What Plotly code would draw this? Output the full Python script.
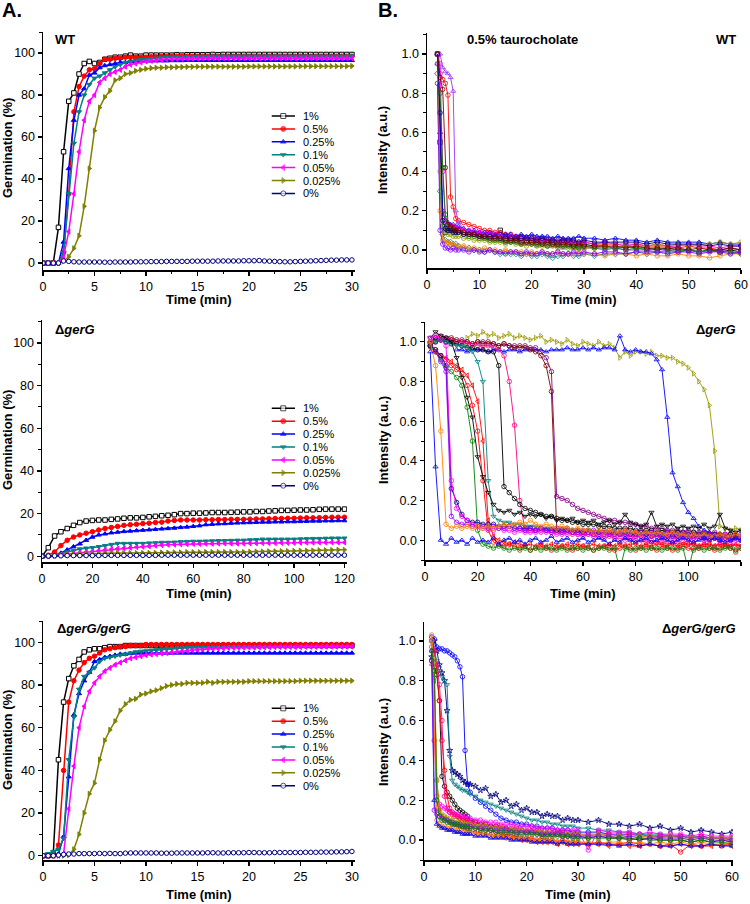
import plotly.graph_objects as go

W, H = 750, 904
FONT = "Liberation Sans, Arial, sans-serif"

# ---------------- Panel A: germination curves ----------------
conc_labels = ["1%", "0.5%", "0.25%", "0.1%", "0.05%", "0.025%", "0%"]
conc_colors = ["#000000", "#FF0000", "#0000FF", "#008080", "#FF00FF", "#808000", "#000080"]
conc_symbols = ["square", "circle", "triangle-up", "triangle-down", "triangle-left", "triangle-right", "circle"]
conc_fill = ["white", None, None, None, None, None, "white"]

t_A1 = [0, 0.5, 1, 1.5, 2, 2.5, 3, 3.5, 4, 4.5, 5, 5.5, 6, 6.5, 7, 7.5, 8, 8.5, 9, 9.5,
        10, 10.5, 11, 11.5, 12, 12.5, 13, 13.5, 14, 14.5, 15, 15.5, 16, 16.5, 17, 17.5, 18, 18.5, 19, 19.5,
        20, 20.5, 21, 21.5, 22, 22.5, 23, 23.5, 24, 24.5, 25, 25.5, 26, 26.5, 27, 27.5, 28, 28.5, 29, 29.5, 30]
t_A3 = t_A1
t_A2 = [0, 2.5, 5, 7.5, 10, 12.5, 15, 17.5, 20, 22.5, 25, 27.5, 30, 32.5, 35, 37.5, 40, 42.5, 45, 47.5,
        50, 52.5, 55, 57.5, 60, 62.5, 65, 67.5, 70, 72.5, 75, 77.5, 80, 82.5, 85, 87.5, 90, 92.5, 95, 97.5,
        100, 102.5, 105, 107.5, 110, 112.5, 115, 117.5, 120]

# WT
wt_1 = [0, 0, 0, 17, 53, 77, 81, 90, 95, 96,
        95, 95.5, 97, 97.5, 98, 98, 98.5, 99, 98.5, 98.5,
        99, 99, 99, 99, 99, 99, 99.2, 99, 99.2, 99.2,
        99.2, 99.2, 99.2, 99.3, 99.2, 99.3, 99.3, 99.3, 99.3, 99.3,
        99.3, 99.3, 99.3, 99.3, 99.3, 99.3, 99.3, 99.3, 99.3, 99.3,
        99.3, 99.3, 99.3, 99.3, 99.3, 99.3, 99.3, 99.3, 99.3, 99.3, 99.3]
wt_05 = [0, 0, 0, 0, 5, 33, 72, 84, 89, 92,
         92.5, 95, 97, 97, 97.5, 97.5, 98, 98, 98, 98,
         98, 98.2, 98.2, 98.3, 98.3, 98.5, 98.5, 98.5, 98.5, 98.5,
         98.5, 98.5, 98.5, 98.5, 98.5, 98.5, 98.5, 98.5, 98.5, 98.5,
         98.5, 98.5, 98.5, 98.5, 98.5, 98.5, 98.5, 98.5, 98.5, 98.5,
         98.5, 98.5, 98.5, 98.5, 98.5, 98.5, 98.5, 98.5, 98.5, 98.5, 98.5]
wt_025 = [0, 0, 0, 0, 10, 45, 68, 80, 83, 89.5,
          90.5, 93, 94, 94.5, 95, 95.5, 95.5, 96, 96, 96,
          96.2, 96.2, 96.3, 96.3, 96.3, 96.4, 96.4, 96.4, 96.5, 96.5,
          96.5, 96.5, 96.5, 96.5, 96.5, 96.5, 96.5, 96.5, 96.5, 96.5,
          96.5, 96.5, 96.5, 96.5, 96.5, 96.5, 96.5, 96.5, 96.5, 96.5,
          96.5, 96.5, 96.5, 96.5, 96.5, 96.5, 96.5, 96.5, 96.5, 96.5, 96.5]
wt_01 = [0, 0, 0, 0, 5, 33, 57, 72, 80, 85,
         88, 89, 90.5, 92, 93.5, 94.5, 95.5, 96, 96.5, 96.8,
         97, 97.3, 97.5, 97.7, 98, 98, 98.2, 98.2, 98.3, 98.3,
         98.4, 98.4, 98.4, 98.5, 98.5, 98.5, 98.5, 98.5, 98.5, 98.5,
         98.5, 98.5, 98.5, 98.5, 98.5, 98.5, 98.5, 98.5, 98.5, 98.5,
         98.5, 98.5, 98.5, 98.5, 98.5, 98.5, 98.5, 98.5, 98.5, 98.5, 98.6]
wt_005 = [0, 0, 0, 0, 3, 15, 33, 53, 68, 77,
          80, 86, 88, 90, 91, 92, 93.5, 94.5, 95, 95.5,
          96, 96.3, 96.5, 96.8, 97, 97, 97.2, 97.2, 97.3, 97.3,
          97.4, 97.4, 97.5, 97.5, 97.5, 97.5, 97.5, 97.5, 97.5, 97.5,
          97.5, 97.5, 97.5, 97.5, 97.5, 97.5, 97.5, 97.5, 97.5, 97.5,
          97.5, 97.5, 97.5, 97.5, 97.5, 97.5, 97.5, 97.5, 97.5, 97.5, 97.5]
wt_0025 = [0, 0, 0, 0, 1, 3, 7, 13, 27, 45,
           63, 74, 79, 82, 87, 88, 90, 90.5, 91.5, 92,
           92.5, 92.8, 93, 93, 93.2, 93.2, 93.3, 93.3, 93.4, 93.4,
           93.5, 93.5, 93.5, 93.5, 93.5, 93.5, 93.5, 93.5, 93.5, 93.5,
           93.6, 93.6, 93.6, 93.6, 93.6, 93.6, 93.6, 93.6, 93.6, 93.6,
           93.7, 93.7, 93.7, 93.7, 93.7, 93.7, 93.7, 93.7, 93.7, 93.7, 93.8]
wt_0 = [0, 0, 0, 0, 1, 0.8, 0.6, 0.5, 0.5, 0.5,
        0.5, 0.5, 0.4, 0.4, 0.5, 0.5, 0.5, 0.5, 0.6, 0.6,
        0.6, 0.7, 0.7, 0.7, 0.8, 0.8, 0.8, 0.8, 0.8, 0.9,
        0.9, 0.9, 0.9, 0.9, 1.0, 1.0, 1.0, 1.0, 1.0, 1.1,
        1.1, 1.1, 1.2, 1.0, 0.9, 0.8, 0.7, 0.6, 0.6, 0.7,
        0.8, 0.9, 1.0, 1.1, 1.2, 1.3, 1.4, 1.4, 1.5, 1.5, 1.5]

# delta gerG
ger_1 = [0, 4, 9.5, 11.5, 13, 14.5, 15.8, 16.5,
         16.8, 17, 17, 17.3, 17.5, 17.8, 18, 18,
         18.2, 18.5, 18.7, 19, 19.2, 19.5, 20, 20,
         20.2, 20.2, 20.3, 20.5, 20.5, 20.5, 20.6, 20.7,
         20.8, 20.8, 21, 21, 21.2, 21.3, 21.5, 21.5,
         21.6, 21.7, 21.7, 21.8, 22, 22.1, 22.1, 22.1, 22.1]
ger_05 = [0, 0.5, 2, 5, 7.5, 9, 10, 10.8,
          11.5, 12.3, 13, 13.5, 14, 14.5, 14.8, 15,
          15.3, 15.5, 15.8, 16, 16.5, 16.8, 17, 17,
          17, 17, 17.1, 17.1, 17.2, 17.2, 17.3, 17.3,
          17.3, 17.4, 17.5, 17.5, 17.6, 17.7, 17.7, 17.8,
          17.8, 17.9, 18, 18, 18.1, 18.2, 18.3, 18.3, 18.3]
ger_025 = [0, 0, 0.5, 1.5, 3, 4.5, 5.8, 7.5,
           9, 10, 10.5, 11, 11.3, 11.6, 11.8, 12,
           12.2, 12.4, 12.6, 12.8, 13, 13.2, 13.5, 13.7,
           14, 14.3, 14.8, 15, 15.2, 15.3, 15.5, 15.6,
           15.7, 15.8, 15.9, 16, 16, 16.1, 16.1, 16.2,
           16.2, 16.3, 16.4, 16.5, 16.5, 16.6, 16.6, 16.7, 16.7]
ger_01 = [0, 0, 0.5, 1, 2, 2.8, 3.4, 3.8,
          4, 4.5, 5, 5.5, 6, 6, 6, 6,
          6, 6.2, 6.3, 6.5, 6.5, 6.6, 6.8, 6.9,
          7, 7, 7.1, 7.2, 7.3, 7.3, 7.4, 7.5,
          7.5, 7.7, 7.8, 8, 8, 8, 8, 8,
          8, 8.1, 8.2, 8.3, 8.3, 8.4, 8.5, 8.5, 8.5]
ger_005 = [0, 0, 0.3, 0.7, 1, 1.3, 1.6, 2,
           2.3, 2.6, 3, 3.3, 3.6, 3.8, 4, 4.3,
           4.5, 4.7, 5, 5.2, 5.4, 5.5, 5.6, 5.7,
           5.8, 5.8, 5.9, 5.9, 6, 6, 6, 6,
           6, 6.1, 6.1, 6.2, 6.2, 6.2, 6.3, 6.3,
           6.3, 6.4, 6.4, 6.4, 6.5, 6.5, 6.5, 6.5, 6.5]
ger_0025 = [0, 0, 0.2, 0.4, 0.6, 0.8, 1, 1.1,
            1.2, 1.3, 1.4, 1.4, 1.5, 1.5, 1.5, 1.5,
            1.5, 1.6, 1.6, 1.7, 1.7, 1.8, 1.8, 1.9,
            1.9, 1.9, 2, 2, 2, 2, 2, 2,
            2, 2.1, 2.2, 2.2, 2.3, 2.3, 2.4, 2.4,
            2.5, 2.6, 2.6, 2.7, 2.8, 2.8, 2.9, 3, 3]
ger_0 = [0, 0.1, 0.2, 0.2, 0.3, 0.3, 0.3, 0.3,
         0.3, 0.3, 0.4, 0.4, 0.4, 0.4, 0.4, 0.4,
         0.4, 0.4, 0.4, 0.5, 0.5, 0.5, 0.5, 0.5,
         0.5, 0.5, 0.5, 0.5, 0.5, 0.5, 0.5, 0.5,
         0.5, 0.5, 0.5, 0.5, 0.5, 0.5, 0.5, 0.5,
         0.5, 0.5, 0.5, 0.5, 0.5, 0.5, 0.5, 0.5, 0.5]

# delta gerG / gerG
comp_1 = [0, 0, 1, 45, 72, 83, 89, 92, 95.5, 96.5,
          97, 97, 97.5, 98, 98, 98, 98.5, 98.5, 98.5, 98.5,
          98.5, 98.5, 98.5, 98.5, 98.5, 98.5, 98.5, 98.5, 98.5, 98.5,
          98.5, 98.5, 98.5, 98.5, 98.5, 98.5, 98.5, 98.5, 98.5, 98.5,
          98.5, 98.5, 98.5, 98.5, 98.5, 98.5, 98.5, 98.5, 98.5, 98.5,
          98.5, 98.5, 98.5, 98.5, 98.5, 98.5, 98.5, 98.5, 98.5, 98.5, 98.5]
comp_05 = [0, 0, 0, 5, 40, 72, 82, 87, 90.5, 92.5,
           93.5, 95, 96.5, 97, 97.5, 98, 98, 98.5, 98.5, 98.5,
           99, 99, 99, 99, 99, 99, 99, 99, 99, 99,
           99, 99, 99, 99, 99, 99, 99, 99, 99, 99,
           99, 99, 99, 99, 99, 99, 99, 99, 99, 99,
           99, 99, 99, 99, 99, 99, 99, 99, 99, 99, 99]
comp_025 = [0, 0, 0, 1, 9, 37, 66, 76, 82, 86,
            91, 92, 93, 93.5, 94, 94.5, 94.5, 94.8, 95, 95,
            95, 95, 95, 95, 95, 95, 95, 95, 95, 95,
            95, 95, 95, 95, 95, 95, 95, 95, 95, 95,
            95, 95, 95, 95, 95, 95, 95, 95, 95, 95,
            95, 95, 95, 95, 95, 95, 95, 95, 95, 95, 95]
comp_01 = [0, 1, 2, 3, 8, 45, 65, 78, 84, 86,
           88, 91, 92.5, 93, 93.5, 94, 94.5, 95, 95.5, 95.8,
           96, 96.2, 96.5, 96.7, 97, 97, 97.2, 97.3, 97.5, 97.5,
           97.5, 97.6, 97.6, 97.7, 97.7, 97.7, 97.8, 97.8, 97.8, 97.8,
           97.9, 97.9, 97.9, 97.9, 97.9, 98, 98, 98, 98, 98,
           98, 98, 98, 98, 98, 98, 98, 98, 98, 98, 98]
comp_005 = [0, 0, 0, 0, 1, 22, 42, 60, 70, 77,
            81, 84, 86.5, 88, 89.5, 90.5, 91.5, 92.5, 93, 93.5,
            94, 94.3, 94.5, 94.8, 95, 95.3, 95.5, 95.8, 96, 96.3,
            96.5, 96.7, 97, 97, 97.2, 97.3, 97.5, 97.5, 97.5, 97.6,
            97.6, 97.6, 97.7, 97.7, 97.7, 97.8, 97.8, 97.8, 97.8, 97.8,
            97.8, 97.9, 97.9, 97.9, 97.9, 98, 98, 98, 98, 98, 98]
comp_0025 = [0, 0, 0, 0, 0, 0.3, 3, 10, 20, 29,
             34, 45, 54, 59, 63, 68, 71, 73, 73.5, 75.5,
             76, 77, 77.5, 78.5, 79.5, 80, 80.5, 80.5, 81, 81,
             81, 81, 81.5, 81, 81.5, 81.5, 81.5, 81.5, 81.5, 81.5,
             81.8, 81.8, 81.8, 81.8, 81.8, 81.8, 81.8, 81.8, 81.8, 81.8,
             82, 82, 82, 82, 82, 82, 82, 82, 82, 82, 82]
comp_0 = [0, 0, 0, 0.3, 0.6, 0.8, 0.8, 1, 1, 1,
          1, 1.1, 1, 1.1, 1, 1, 1.2, 1.3, 1.3, 1.3,
          1.3, 1.3, 1.3, 1.2, 1.2, 1.2, 1.3, 1.3, 1.3, 1.3,
          1.3, 1.3, 1.4, 1.4, 1.3, 1.3, 1.4, 1.4, 1.4, 1.4,
          1.5, 1.5, 1.4, 1.4, 1.4, 1.5, 1.5, 1.5, 1.5, 1.5,
          1.5, 1.6, 1.6, 1.6, 1.7, 1.7, 1.7, 1.8, 1.8, 1.9, 2.0]

A1_series = [wt_1, wt_05, wt_025, wt_01, wt_005, wt_0025, wt_0]
A2_series = [ger_1, ger_05, ger_025, ger_01, ger_005, ger_0025, ger_0]
A3_series = [comp_1, comp_05, comp_025, comp_01, comp_005, comp_0025, comp_0]

# ---------------- Panel B: single spore intensity traces ----------------
t_B1 = [2, 2.5, 3, 3.5, 4, 4.5, 5, 5.5,
        6, 7, 8, 9, 10, 11, 12, 13, 14, 15, 16, 17, 18, 19, 20, 21, 22, 23, 24, 25, 26, 27, 28, 29, 30,
        32, 34, 36, 38, 40, 42, 44, 46, 48, 50, 52, 54, 56, 58, 60]

B1_traces = [
    ("#000000", "square", [1.0, 0.55, 0.12, 0.09, 0.10, 0.11, 0.10, 0.10, 0.10, 0.09, 0.09, 0.08, 0.08, 0.07, 0.08, 0.07, 0.10, 0.06, 0.06, 0.05, 0.06, 0.05, 0.05, 0.04, 0.05, 0.04, 0.04, 0.03, 0.04, 0.03, 0.03, 0.02, 0.03, 0.02, 0.02, 0.01, 0.02, 0.01, 0.01, 0.00, 0.01, 0.00, 0.00, -0.01, 0.00, -0.01, 0.00, -0.01]),
    ("#FF0000", "circle", [1.0, 0.90, 0.87, 0.85, 0.79, 0.27, 0.22, 0.16, 0.15, 0.14, 0.13, 0.12, 0.11, 0.10, 0.10, 0.09, 0.09, 0.08, 0.08, 0.07, 0.07, 0.06, 0.06, 0.06, 0.05, 0.05, 0.05, 0.04, 0.05, 0.04, 0.04, 0.03, 0.04, 0.03, 0.03, 0.03, 0.02, 0.03, 0.02, 0.02, 0.02, 0.01, 0.02, 0.01, 0.01, 0.00, 0.01, 0.00]),
    ("#0000FF", "triangle-up", [1.0, 0.60, 0.20, 0.15, 0.14, 0.13, 0.13, 0.12, 0.12, 0.11, 0.10, 0.10, 0.09, 0.09, 0.09, 0.08, 0.08, 0.08, 0.08, 0.07, 0.08, 0.07, 0.08, 0.07, 0.07, 0.07, 0.06, 0.07, 0.06, 0.06, 0.06, 0.07, 0.06, 0.06, 0.05, 0.06, 0.05, 0.05, 0.04, 0.05, 0.04, 0.04, 0.04, 0.04, 0.03, 0.04, 0.03, 0.03]),
    ("#FF00FF", "circle", [1.0, 0.95, 0.40, 0.15, 0.13, 0.12, 0.12, 0.11, 0.11, 0.10, 0.10, 0.09, 0.09, 0.08, 0.08, 0.08, 0.07, 0.07, 0.07, 0.06, 0.06, 0.06, 0.06, 0.05, 0.05, 0.05, 0.05, 0.04, 0.05, 0.04, 0.04, 0.04, 0.04, 0.03, 0.04, 0.03, 0.03, 0.03, 0.02, 0.03, 0.02, 0.02, 0.03, 0.02, 0.02, 0.01, 0.02, 0.02]),
    ("#9933FF", "triangle-up", [0.95, 1.0, 0.93, 0.91, 0.90, 0.88, 0.81, 0.20, 0.14, 0.11, 0.09, 0.08, 0.07, 0.06, 0.06, 0.05, 0.05, 0.04, 0.04, 0.04, 0.03, 0.03, 0.03, 0.02, 0.03, 0.02, 0.02, 0.02, 0.01, 0.02, 0.01, 0.01, 0.01, 0.01, 0.00, 0.01, 0.00, 0.00, 0.00, -0.01, 0.00, -0.01, 0.00, -0.01, -0.01, 0.00, -0.01, -0.01]),
    ("#999900", "circle", [1.0, 0.40, 0.10, 0.09, 0.08, 0.08, 0.07, 0.07, 0.07, 0.06, 0.06, 0.05, 0.05, 0.05, 0.04, 0.04, 0.04, 0.03, 0.04, 0.03, 0.03, 0.02, 0.03, 0.02, 0.02, 0.02, 0.02, 0.01, 0.02, 0.01, 0.01, 0.01, 0.01, 0.01, 0.02, 0.01, 0.02, 0.02, 0.02, 0.03, 0.02, 0.03, 0.02, 0.03, 0.03, 0.04, 0.03, 0.04]),
    ("#008080", "diamond", [0.90, 0.30, 0.08, 0.05, 0.04, 0.04, 0.03, 0.03, 0.02, 0.01, 0.01, 0.00, 0.00, -0.01, 0.00, -0.01, -0.02, -0.01, -0.02, -0.02, -0.03, -0.02, -0.03, -0.03, -0.02, -0.03, -0.04, -0.03, -0.03, -0.02, -0.03, -0.03, -0.02, -0.03, -0.02, -0.02, -0.02, -0.01, -0.02, -0.01, -0.01, -0.01, 0.00, -0.01, 0.00, 0.00, 0.01, 0.00]),
    ("#FF8000", "circle", [0.90, 0.20, 0.05, 0.04, 0.04, 0.03, 0.03, 0.02, 0.02, 0.02, 0.01, 0.01, 0.00, 0.01, 0.00, 0.00, -0.01, 0.00, -0.01, -0.01, -0.01, -0.02, -0.01, -0.02, -0.01, -0.02, -0.02, -0.01, -0.02, -0.02, -0.02, -0.01, -0.02, -0.02, -0.03, -0.02, -0.02, -0.03, -0.02, -0.03, -0.03, -0.02, -0.03, -0.03, -0.04, -0.03, -0.02, -0.02]),
    ("#008000", "circle", [0.95, 0.80, 0.42, 0.18, 0.12, 0.11, 0.10, 0.09, 0.09, 0.08, 0.07, 0.07, 0.06, 0.06, 0.05, 0.05, 0.05, 0.04, 0.04, 0.04, 0.03, 0.04, 0.03, 0.03, 0.03, 0.02, 0.03, 0.02, 0.02, 0.02, 0.02, 0.01, 0.02, 0.01, 0.01, 0.01, 0.00, 0.01, 0.00, 0.01, 0.00, 0.00, 0.00, -0.01, 0.00, -0.01, -0.01, -0.02]),
    ("#000080", "circle", [1.0, 0.70, 0.15, 0.11, 0.10, 0.10, 0.09, 0.09, 0.09, 0.08, 0.08, 0.08, 0.07, 0.07, 0.07, 0.07, 0.06, 0.07, 0.06, 0.06, 0.06, 0.06, 0.06, 0.05, 0.06, 0.05, 0.05, 0.05, 0.05, 0.05, 0.05, 0.04, 0.05, 0.04, 0.04, 0.04, 0.04, 0.04, 0.03, 0.04, 0.03, 0.03, 0.03, 0.03, 0.02, 0.03, 0.02, 0.02]),
    ("#800000", "circle", [1.0, 0.88, 0.82, 0.42, 0.13, 0.12, 0.11, 0.10, 0.10, 0.09, 0.08, 0.08, 0.07, 0.07, 0.06, 0.06, 0.06, 0.05, 0.05, 0.05, 0.04, 0.04, 0.04, 0.04, 0.03, 0.04, 0.03, 0.03, 0.03, 0.03, 0.02, 0.03, 0.02, 0.02, 0.02, 0.02, 0.01, 0.02, 0.01, 0.01, 0.01, 0.01, 0.00, 0.01, 0.00, 0.00, 0.01, 0.00]),
    ("#8000FF", "circle", [0.85, 0.10, 0.03, 0.01, 0.01, 0.00, 0.01, 0.00, 0.00, 0.00, -0.01, 0.00, -0.01, -0.01, 0.00, -0.01, -0.01, -0.02, -0.01, -0.01, -0.02, -0.01, -0.02, -0.02, -0.01, -0.02, -0.02, -0.01, -0.02, -0.02, -0.01, -0.02, -0.01, -0.02, -0.01, -0.01, -0.02, -0.01, -0.01, -0.01, -0.02, -0.01, -0.01, -0.02, -0.01, -0.01, -0.02, -0.01]),
]

t_B2 = [2, 4, 6, 8, 10, 12, 14, 16, 18, 20, 22, 24, 26, 28, 30, 32, 34, 36, 38, 40,
        42, 44, 46, 48, 50, 52, 54, 56, 58, 60, 62, 64, 66, 68, 70, 72, 74, 76, 78, 80,
        82, 84, 86, 88, 90, 92, 94, 96, 98, 100, 102, 104, 106, 108, 110, 112, 114, 116, 118, 120]

B2_traces = [
    ("#999900", "triangle-right", [None, None, None, None, None, None, None, 1.02, 1.04, 1.03,
                                   1.05, 1.03, 1.04, 1.02, 1.03, 1.04, 1.02, 1.03, 1.02, 1.01,
                                   1.02, 1.03, 1.00, 1.01, 1.00, 0.99, 1.01, 0.99, 0.98, 1.00,
                                   0.99, 0.98, 1.00, 0.98, 0.99, 0.97, 0.92, 0.95, 0.93, 0.95,
                                   0.95, 0.94, 0.95, 0.93, 0.93, 0.92, 0.92, 0.90, 0.89, 0.87,
                                   0.84, 0.80, 0.76, 0.68, 0.45, 0.07, 0.06, 0.05, 0.06, 0.05]),
    ("#0000FF", "triangle-up", [None, None, None, None, None, 0.96, 0.96, 0.95, 0.96, 0.96,
                                0.96, 0.95, 0.96, 0.96, 0.95, 0.96, 0.96, 0.95, 0.96, 0.96,
                                0.96, 0.96, 0.95, 0.96, 0.96, 0.96, 0.97, 0.96, 0.96, 0.97,
                                0.96, 0.97, 0.96, 0.97, 0.97, 0.96, 1.03, 0.96, 0.95, 0.96,
                                0.95, 0.95, 0.94, 0.91, 0.86, 0.62, 0.34, 0.27, 0.19, 0.14,
                                0.11, 0.07, 0.05, 0.04, 0.03, 0.02, 0.02, 0.01, 0.02, 0.01]),
    ("#800080", "circle", [0.98, 1.00, 1.01, 1.02, 1.01, 1.00, 1.01, 1.00, 0.99, 1.00,
                           1.00, 0.99, 0.99, 0.98, 0.99, 0.98, 0.98, 0.97, 0.98, 0.97,
                           0.97, 0.95, 0.92, 0.85, 0.22, 0.21, 0.20, 0.18, 0.16, 0.15,
                           0.14, 0.13, 0.12, 0.11, 0.10, 0.10, 0.09, 0.09, 0.08, 0.08,
                           0.07, 0.07, 0.06, 0.06, 0.06, 0.05, 0.05, 0.05, 0.04, 0.05,
                           0.04, 0.04, 0.04, 0.03, 0.04, 0.03, 0.03, 0.03, 0.03, 0.02]),
    ("#800000", "circle", [0.99, 1.00, 1.01, 1.00, 1.02, 1.01, 1.00, 1.00, 0.99, 1.00,
                           0.99, 1.00, 0.99, 0.98, 0.99, 0.98, 0.97, 0.98, 0.97, 0.96,
                           0.95, 0.93, 0.88, 0.75, 0.06, 0.05, 0.06, 0.05, 0.05, 0.04,
                           0.05, 0.04, 0.04, 0.05, 0.04, 0.04, 0.03, 0.04, 0.03, 0.03,
                           0.04, 0.03, 0.03, 0.03, 0.02, 0.03, 0.02, 0.02, 0.03, 0.02,
                           0.02, 0.02, 0.01, 0.02, 0.01, 0.02, 0.01, 0.01, 0.02, 0.01]),
    ("#FF0080", "circle", [1.00, 1.02, 1.03, 1.02, 1.01, 1.00, 1.00, 0.99, 0.99, 0.98,
                           0.98, 0.98, 0.97, 0.96, 0.93, 0.80, 0.58, 0.20, 0.05, 0.05,
                           0.05, 0.04, 0.05, 0.04, 0.04, 0.03, 0.04, 0.03, 0.03, 0.02,
                           0.03, 0.02, 0.02, 0.01, 0.02, 0.01, 0.01, 0.00, 0.01, 0.00,
                           0.00, -0.01, 0.00, -0.01, -0.01, -0.02, -0.01, -0.02, -0.01, -0.02,
                           -0.02, -0.03, -0.02, -0.02, -0.03, -0.02, -0.03, -0.02, -0.03, -0.02]),
    ("#000000", "circle", [1.00, 1.02, 1.01, 1.00, 0.99, 0.99, 0.98, 0.97, 0.97, 0.96,
                           0.96, 0.95, 0.95, 0.88, 0.27, 0.24, 0.21, 0.18, 0.16, 0.15,
                           0.14, 0.13, 0.12, 0.12, 0.11, 0.10, 0.10, 0.09, 0.09, 0.08,
                           0.08, 0.08, 0.07, 0.07, 0.07, 0.06, 0.06, 0.06, 0.06, 0.05,
                           0.05, 0.05, 0.05, 0.04, 0.05, 0.04, 0.04, 0.04, 0.04, 0.03,
                           0.04, 0.03, 0.03, 0.03, 0.03, 0.03, 0.02, 0.03, 0.02, 0.02]),
    ("#008080", "triangle-down", [0.99, 1.00, 1.01, 1.00, 0.99, 0.98, 0.98, 0.97, 0.95, 0.90,
                                  0.80, 0.30, 0.12, 0.10, 0.09, 0.09, 0.08, 0.08, 0.07, 0.07,
                                  0.07, 0.06, 0.06, 0.06, 0.05, 0.06, 0.05, 0.05, 0.05, 0.04,
                                  0.05, 0.04, 0.04, 0.04, 0.03, 0.04, 0.03, 0.04, 0.03, 0.03,
                                  0.03, 0.03, 0.02, 0.03, 0.03, 0.02, 0.02, 0.03, 0.02, 0.02,
                                  0.02, 0.02, 0.01, 0.02, 0.02, 0.01, 0.02, 0.01, 0.01, 0.02]),
    ("#FF0000", "triangle-left", [0.97, 0.95, 0.93, 0.92, 0.90, 0.88, 0.86, 0.83, 0.78, 0.70,
                                  0.50, 0.10, 0.02, 0.00, -0.01, -0.02, -0.01, -0.02, -0.03, -0.02,
                                  -0.03, -0.02, -0.03, -0.02, -0.03, -0.03, -0.02, -0.03, -0.02, -0.03,
                                  -0.03, -0.02, -0.03, -0.03, -0.02, -0.03, -0.02, -0.03, -0.02, -0.02,
                                  -0.03, -0.02, -0.03, -0.02, -0.02, -0.03, -0.02, -0.03, -0.02, -0.02,
                                  -0.02, -0.03, -0.02, -0.02, -0.03, -0.02, -0.02, -0.03, -0.02, -0.03]),
    ("#FF0000", "circle", [0.98, 0.96, 0.93, 0.91, 0.88, 0.86, 0.84, 0.78, 0.68, 0.55,
                           0.30, 0.05, -0.01, -0.02, -0.03, -0.02, -0.03, -0.04, -0.03, -0.05,
                           -0.04, -0.03, -0.04, -0.05, -0.04, -0.03, -0.04, -0.05, -0.04, -0.03,
                           -0.04, -0.05, -0.04, -0.03, -0.04, -0.05, -0.04, -0.03, -0.04, -0.05,
                           -0.04, -0.03, -0.04, -0.05, -0.03, -0.04, -0.05, -0.04, -0.03, -0.04,
                           -0.05, -0.04, -0.03, -0.04, -0.05, -0.04, -0.03, -0.04, -0.06, -0.04]),
    ("#008000", "circle", [0.98, 0.95, 0.91, 0.87, 0.85, 0.82, 0.78, 0.67, 0.50, 0.05,
                           -0.02, -0.03, -0.04, -0.03, -0.04, -0.05, -0.04, -0.05, -0.04, -0.05,
                           -0.04, -0.05, -0.04, -0.04, -0.05, -0.04, -0.05, -0.04, -0.04, -0.05,
                           -0.04, -0.05, -0.04, -0.04, -0.05, -0.04, -0.15, -0.04, -0.05, -0.04,
                           -0.04, -0.05, -0.04, -0.04, -0.05, -0.04, -0.04, -0.05, -0.04, -0.15,
                           -0.04, -0.04, -0.05, -0.04, -0.04, -0.05, -0.04, -0.04, -0.05, -0.04]),
    ("#000000", "triangle-down", [1.02, 1.05, 1.03, 1.02, 1.00, 0.92, 0.82, 0.72, 0.62, 0.42,
                                  0.32, 0.24, 0.18, 0.15, 0.14, 0.15, 0.13, 0.14, 0.12, 0.13,
                                  0.12, 0.13, 0.11, 0.12, 0.10, 0.11, 0.10, 0.11, 0.09, 0.10,
                                  0.09, 0.10, 0.08, 0.09, 0.10, 0.08, 0.09, 0.13, 0.09, 0.08,
                                  0.07, 0.08, 0.14, 0.07, 0.08, 0.07, 0.08, 0.06, 0.07, 0.06,
                                  0.07, 0.06, 0.08, 0.06, 0.07, 0.13, 0.06, 0.05, 0.04, 0.05]),
    ("#000080", "circle", [0.98, 0.96, 0.93, 0.88, 0.26, 0.19, 0.13, 0.10, 0.09, 0.09,
                           0.08, 0.08, 0.08, 0.07, 0.07, 0.07, 0.06, 0.06, 0.06, 0.06,
                           0.05, 0.06, 0.05, 0.05, 0.05, 0.04, 0.05, 0.04, 0.04, 0.04,
                           0.04, 0.03, 0.04, 0.03, 0.03, 0.03, 0.03, 0.02, 0.03, 0.02,
                           0.02, 0.03, 0.02, 0.02, 0.02, 0.01, 0.02, 0.01, 0.02, 0.01,
                           0.01, 0.02, 0.01, 0.01, 0.01, 0.00, 0.01, 0.00, 0.01, 0.00]),
    ("#FF00FF", "circle", [1.02, 1.03, 1.01, 0.98, 0.30, 0.16, 0.12, 0.10, 0.08, 0.07,
                           0.06, 0.06, 0.05, 0.06, 0.05, 0.05, 0.04, 0.05, 0.04, 0.04,
                           0.04, 0.05, 0.04, 0.04, 0.03, 0.04, 0.03, 0.04, 0.03, 0.03,
                           0.03, 0.03, 0.02, 0.03, 0.03, 0.02, 0.03, 0.02, 0.02, 0.02,
                           0.02, 0.01, 0.02, 0.02, 0.01, 0.02, 0.01, 0.01, 0.02, 0.01,
                           0.01, 0.01, 0.00, 0.01, 0.01, 0.00, 0.01, 0.00, 0.00, 0.01]),
    ("#9900FF", "circle", [1.00, 0.95, 0.90, 0.85, 0.12, 0.09, 0.08, 0.08, 0.07, 0.07,
                           0.07, 0.06, 0.07, 0.06, 0.06, 0.07, 0.06, 0.06, 0.05, 0.06,
                           0.05, 0.06, 0.05, 0.05, 0.06, 0.05, 0.05, 0.04, 0.05, 0.05,
                           0.04, 0.05, 0.04, 0.04, 0.05, 0.04, 0.04, 0.05, 0.04, 0.04,
                           0.04, 0.03, 0.04, 0.04, 0.03, 0.04, 0.03, 0.03, 0.04, 0.03,
                           0.03, 0.03, 0.02, 0.03, 0.03, 0.02, 0.03, 0.02, 0.02, 0.03]),
    ("#FF8000", "circle", [1.00, 0.88, 0.55, 0.08, 0.06, 0.07, 0.06, 0.07, 0.06, 0.07,
                           0.06, 0.07, 0.06, 0.07, 0.08, 0.07, 0.08, 0.09, 0.08, 0.10,
                           0.08, 0.07, 0.08, 0.07, 0.06, 0.07, 0.06, 0.05, 0.06, 0.05,
                           0.05, 0.04, 0.05, 0.04, 0.05, 0.04, 0.04, 0.05, 0.04, 0.04,
                           0.03, 0.04, 0.03, 0.04, 0.03, 0.03, 0.04, 0.03, 0.03, 0.02,
                           0.03, 0.02, 0.03, 0.02, 0.02, 0.03, 0.02, 0.02, 0.03, 0.02]),
    ("#0000FF", "triangle-up", [0.95, 0.37, 0.00, -0.02, 0.01, -0.01, 0.00, -0.02, 0.01, -0.01,
                                0.00, -0.01, 0.01, -0.02, 0.00, 0.01, -0.01, 0.00, -0.02, 0.00,
                                0.01, -0.01, 0.00, 0.02, -0.01, 0.00, 0.01, -0.01, 0.00, 0.01,
                                -0.01, 0.00, 0.01, 0.00, -0.02, 0.00, -0.01, 0.01, 0.00, -0.01,
                                0.00, 0.01, -0.01, 0.00, 0.01, 0.00, -0.01, 0.00, 0.01, 0.00,
                                -0.01, 0.00, 0.01, 0.00, 0.01, 0.00, -0.01, 0.00, 0.01, 0.00]),
]

t_B3 = [1.5, 2, 2.5, 3, 3.5, 4, 4.5, 5, 5.5, 6, 6.5, 7, 7.5, 8, 8.5, 9,
        10, 11, 12, 13, 14, 15, 16, 17, 18, 19, 20, 21, 22, 23, 24, 25, 26, 27, 28, 29, 30,
        32, 34, 36, 38, 40, 42, 44, 46, 48, 50, 52, 54, 56, 58, 60]

B3_traces = [
    ("#000080", "star", [0.92, 1.00, 0.95, 0.88, 0.84, 0.80, 0.65, 0.45, 0.35, 0.34, 0.33, 0.32, 0.30, 0.29, 0.28, 0.28,
                         0.27, 0.25, 0.26, 0.22, 0.23, 0.19, 0.20, 0.17, 0.18, 0.15, 0.16, 0.14, 0.14, 0.12, 0.13, 0.12, 0.12, 0.10, 0.11, 0.10, 0.10,
                         0.09, 0.10, 0.08, 0.08, 0.07, 0.08, 0.06, 0.07, 0.05, 0.06, 0.04, 0.05, 0.04, 0.03, 0.04]),
    ("#0000FF", "circle", [1.02, 1.01, 0.97, 0.96, 0.96, 0.95, 0.95, 0.94, 0.93, 0.92, 0.90, 0.87, 0.82, 0.45, 0.28, 0.24,
                           0.21, 0.19, 0.17, 0.15, 0.13, 0.11, 0.10, 0.09, 0.09, 0.08, 0.08, 0.07, 0.07, 0.06, 0.06, 0.06, 0.05, 0.05, 0.05, 0.04, 0.04,
                           0.04, 0.04, 0.03, 0.03, 0.03, 0.03, 0.02, 0.02, 0.02, 0.02, 0.01, 0.02, 0.01, 0.01, 0.01]),
    ("#008080", "triangle-down", [1.00, 0.95, 0.90, 0.85, 0.82, 0.80, 0.78, 0.42, 0.30, 0.28, 0.27, 0.26, 0.25, 0.25, 0.24, 0.23,
                                  0.22, 0.20, 0.19, 0.18, 0.17, 0.16, 0.15, 0.14, 0.13, 0.12, 0.11, 0.10, 0.10, 0.09, 0.09, 0.08, 0.08, 0.07, 0.07, 0.07, 0.06,
                                  0.06, 0.05, 0.05, 0.04, 0.04, 0.03, 0.03, 0.03, 0.02, 0.02, 0.02, 0.01, 0.01, 0.01, 0.00]),
    ("#000000", "circle", [0.90, 0.87, 0.83, 0.70, 0.32, 0.27, 0.24, 0.22, 0.20, 0.18, 0.16, 0.15, 0.14, 0.13, 0.12, 0.10,
                           0.09, 0.08, 0.08, 0.07, 0.07, 0.06, 0.06, 0.05, 0.05, 0.05, 0.04, 0.04, 0.04, 0.03, 0.03, 0.03, 0.03, 0.02, 0.02, 0.02, 0.02,
                           0.01, 0.02, 0.01, 0.01, 0.01, 0.00, 0.01, 0.00, 0.00, 0.00, -0.01, 0.00, -0.01, 0.00, -0.01]),
    ("#FF0000", "circle", [1.00, 0.95, 0.85, 0.70, 0.50, 0.35, 0.22, 0.16, 0.14, 0.13, 0.12, 0.11, 0.10, 0.10, 0.09, 0.08,
                           0.07, 0.06, 0.05, 0.05, 0.04, 0.03, 0.03, 0.02, 0.02, 0.01, 0.01, 0.01, 0.00, 0.01, 0.00, 0.00, -0.01, 0.00, -0.01, -0.01, -0.01,
                           -0.02, -0.01, -0.02, -0.02, -0.01, -0.02, -0.02, -0.03, -0.02, -0.06, -0.02, -0.03, -0.02, -0.03, -0.02]),
    ("#FF0000", "triangle-left", [0.88, 0.80, 0.30, 0.15, 0.12, 0.11, 0.10, 0.09, 0.08, 0.08, 0.07, 0.07, 0.06, 0.06, 0.05, 0.05,
                                  0.04, 0.04, 0.03, 0.03, 0.02, 0.02, 0.02, 0.01, 0.01, 0.00, 0.00, 0.00, -0.01, -0.01, -0.01, -0.01, -0.02, -0.01, -0.02, -0.02, -0.02,
                                  -0.02, -0.02, -0.03, -0.02, -0.03, -0.03, -0.02, -0.03, -0.03, -0.02, -0.03, -0.03, -0.03, -0.02, -0.03]),
    ("#FF00FF", "circle", [1.00, 0.50, 0.22, 0.18, 0.17, 0.16, 0.15, 0.14, 0.14, 0.13, 0.13, 0.12, 0.12, 0.12, 0.11, 0.11,
                           0.10, 0.10, 0.09, 0.09, 0.09, 0.08, 0.08, 0.08, 0.07, 0.07, 0.07, 0.07, 0.06, 0.06, 0.06, 0.06, 0.05, 0.05, 0.05, 0.05, 0.05,
                           -0.05, 0.05, 0.04, 0.04, 0.04, 0.03, 0.04, 0.03, 0.03, 0.03, 0.02, 0.03, 0.02, 0.02, 0.02]),
    ("#FF0080", "circle", [0.97, 0.95, 0.88, 0.78, 0.60, 0.22, 0.16, 0.14, 0.13, 0.12, 0.12, 0.11, 0.11, 0.10, 0.10, 0.09,
                           0.09, 0.08, 0.08, 0.07, 0.07, 0.07, 0.06, 0.06, 0.06, 0.05, 0.05, 0.05, 0.05, 0.04, 0.04, 0.04, 0.04, 0.04, 0.03, 0.03, 0.03,
                           0.03, 0.03, 0.03, 0.02, 0.03, 0.02, 0.02, 0.02, 0.02, 0.02, 0.01, 0.02, 0.01, 0.01, 0.01]),
    ("#A0A000", "circle", [1.00, 0.90, 0.30, 0.15, 0.13, 0.12, 0.11, 0.11, 0.10, 0.10, 0.09, 0.09, 0.09, 0.08, 0.08, 0.08,
                           0.07, 0.07, 0.07, 0.06, 0.06, 0.06, 0.05, 0.05, 0.05, 0.05, 0.04, 0.04, 0.04, 0.04, 0.04, 0.03, 0.03, 0.03, 0.03, 0.03, 0.03,
                           0.02, 0.03, 0.02, 0.02, 0.02, 0.02, 0.02, 0.01, 0.02, 0.01, 0.01, 0.01, 0.01, 0.01, 0.01]),
    ("#FF8000", "circle", [1.03, 0.50, 0.10, 0.08, 0.07, 0.07, 0.06, 0.06, 0.06, 0.05, 0.05, 0.05, 0.04, 0.04, 0.04, 0.04,
                           0.03, 0.03, 0.03, 0.02, 0.02, 0.02, 0.01, 0.01, 0.01, 0.01, 0.00, 0.00, 0.00, 0.00, -0.01, 0.00, -0.01, -0.01, -0.01, -0.01, -0.01,
                           -0.01, -0.02, -0.01, -0.01, -0.02, -0.01, -0.02, -0.01, -0.02, -0.01, -0.02, -0.01, -0.02, -0.02, -0.01]),
    ("#0000FF", "triangle-up", [0.95, 0.20, 0.08, 0.07, 0.06, 0.06, 0.05, 0.05, 0.05, 0.04, 0.04, 0.04, 0.03, 0.03, 0.03, 0.03,
                                0.02, 0.02, 0.02, 0.01, 0.01, 0.01, 0.01, 0.00, 0.00, 0.00, 0.00, -0.01, -0.01, -0.01, -0.01, -0.01, -0.02, -0.01, -0.02, -0.02, -0.02,
                                -0.02, -0.02, -0.02, -0.03, -0.02, -0.03, -0.02, -0.03, -0.03, -0.02, -0.03, -0.03, -0.02, -0.03, -0.03]),
    ("#8000FF", "circle", [0.90, 0.15, 0.13, 0.12, 0.11, 0.10, 0.10, 0.09, 0.09, 0.08, 0.08, 0.08, 0.07, 0.07, 0.07, 0.07,
                           0.06, 0.06, 0.06, 0.05, 0.05, 0.05, 0.05, 0.04, 0.04, 0.04, 0.04, 0.04, 0.03, 0.03, 0.03, 0.03, 0.03, 0.03, 0.02, 0.02, 0.02,
                           0.02, 0.02, 0.02, 0.01, 0.02, 0.01, 0.01, 0.01, 0.01, 0.01, 0.00, 0.01, 0.00, 0.00, 0.00]),
    ("#008000", "circle", [0.95, 0.85, 0.20, 0.12, 0.10, 0.10, 0.09, 0.09, 0.08, 0.08, 0.08, 0.07, 0.07, 0.07, 0.06, 0.06,
                           0.06, 0.05, 0.05, 0.05, 0.04, 0.04, 0.04, 0.04, 0.03, 0.03, 0.03, 0.03, 0.03, 0.02, 0.02, 0.02, 0.02, 0.02, 0.02, 0.01, 0.01,
                           0.01, 0.01, 0.01, 0.01, 0.00, 0.01, 0.00, 0.00, 0.00, 0.00, -0.01, 0.00, -0.01, -0.01, -0.02]),
]

# ---------------- Figure ----------------
fig = go.Figure()


def xdom(l, r):
    return [l / W, r / W]


def ydom(top, bottom):
    return [1 - bottom / H, 1 - top / H]


def axis(dom, rng, dtick, mdtick, anchor, fmt=None):
    d = dict(domain=dom, range=rng, anchor=anchor, showline=True, linecolor="black", linewidth=1.5,
             ticks="outside", ticklen=4, tickwidth=1.3, tickcolor="black", tick0=0, dtick=dtick,
             minor=dict(ticks="outside", ticklen=2.5, tickwidth=1, tickcolor="black", tick0=0, dtick=mdtick, showgrid=False),
             showgrid=False, zeroline=False, fixedrange=True, automargin=False,
             tickfont=dict(family=FONT, size=12.5, color="black"))
    if fmt:
        d["tickformat"] = fmt
    return d


layout_axes = {}
# A1, B1, A2, B2, A3, B3
panels = [
    ("x", "y", xdom(43, 355), ydom(32, 270), [0, 30.3], [-3.3, 110], 5, 2.5, 20, 10, None),
    ("x2", "y2", xdom(427, 741), ydom(33, 268), [0, 60], [-0.092, 1.107], 10, 5, 0.2, 0.1, ".1f"),
    ("x3", "y3", xdom(42, 347), ydom(320, 562), [0, 121], [-2.7, 110.8], 20, 10, 20, 10, None),
    ("x4", "y4", xdom(425, 741), ydom(322, 560), [0, 120], [-0.1, 1.1], 20, 10, 0.2, 0.1, ".1f"),
    ("x5", "y5", xdom(43, 355), ydom(621, 860), [0, 30.3], [-2, 110], 5, 2.5, 20, 10, None),
    ("x6", "y6", xdom(424, 733), ydom(622, 860), [0, 60.2], [-0.1, 1.095], 10, 5, 0.2, 0.1, ".1f"),
]
for xa, ya, xd, yd, xr, yr, xdt, xmdt, ydt, ymdt, yfmt in panels:
    xname = "xaxis" + xa[1:]
    yname = "yaxis" + ya[1:]
    layout_axes[xname] = axis(xd, xr, xdt, xmdt, ya)
    layout_axes[yname] = axis(yd, yr, ydt, ymdt, xa, yfmt)


def add_A(xa, ya, t, series):
    for vals, col, sym, fill in zip(series, conc_colors, conc_symbols, conc_fill):
        fig.add_trace(go.Scatter(
            x=t[:len(vals)], y=vals, xaxis=xa, yaxis=ya, mode="lines+markers",
            line=dict(color=col, width=1.5),
            marker=dict(symbol=sym, size=4.5, color=fill if fill else col, line=dict(color=col, width=1)),
            showlegend=False, hoverinfo="skip"))


def add_B(xa, ya, t, traces):
    for col, sym, vals in traces:
        fig.add_trace(go.Scatter(
            x=t[:len(vals)], y=vals, xaxis=xa, yaxis=ya, mode="lines+markers",
            line=dict(color=col, width=0.9),
            marker=dict(symbol=sym + "-open", size=4.5, color=col, line=dict(color=col, width=0.8)),
            connectgaps=False, showlegend=False, hoverinfo="skip"))


add_A("x", "y", t_A1, A1_series)
add_B("x2", "y2", t_B1, B1_traces)
add_A("x3", "y3", t_A2, A2_series)
add_B("x4", "y4", t_B2, B2_traces)
add_A("x5", "y5", t_A3, A3_series)
add_B("x6", "y6", t_B3, B3_traces)

# custom compact legends (one per A panel)
annotations = []
legend_boxes = [("x7", "y7", 116.0), ("x8", "y8", 408.3), ("x9", "y9", 708.3)]
step = 12.9
for xa, ya, first_y in legend_boxes:
    top = first_y - step / 2
    bottom = first_y + 6 * step + step / 2
    layout_axes["xaxis" + xa[1:]] = dict(domain=xdom(271.5, 295), range=[0, 1], visible=False, anchor=ya, fixedrange=True)
    layout_axes["yaxis" + ya[1:]] = dict(domain=ydom(top, bottom), range=[6.5, -0.5], visible=False, anchor=xa, fixedrange=True)
    for i, (lab, col, sym, fill) in enumerate(zip(conc_labels, conc_colors, conc_symbols, conc_fill)):
        fig.add_trace(go.Scatter(
            x=[0, 0.5, 1], y=[i, i, i], xaxis=xa, yaxis=ya, mode="lines+markers",
            line=dict(color=col, width=1.5),
            marker=dict(symbol=sym, size=[0, 5, 0], color=fill if fill else col, line=dict(color=col, width=1)),
            showlegend=False, hoverinfo="skip"))
        annotations.append(dict(x=1, y=i, xref=xa, yref=ya, text=lab, showarrow=False, xanchor="left",
                                yanchor="middle", xshift=6, font=dict(family=FONT, size=11, color="black")))


def ann(text, x, y, size=13, xanchor="center", yanchor="middle", angle=0):
    annotations.append(dict(text=text, x=x / W, y=1 - y / H, xref="paper", yref="paper", showarrow=False,
                            xanchor=xanchor, yanchor=yanchor, textangle=angle,
                            font=dict(family=FONT, size=size, color="black")))


ann("<b>A.</b>", 0, 10, size=20, xanchor="left")
ann("<b>B.</b>", 376, 10, size=20, xanchor="left")

ann("<b>WT</b>", 53, 39, xanchor="left")
ann("<b>0.5% taurocholate</b>", 465, 40, xanchor="left")
ann("<b>WT</b>", 738, 40, xanchor="right")
ann("<b>Δ<i>gerG</i></b>", 53, 330, xanchor="left")
ann("<b>Δ<i>gerG</i></b>", 738, 330, xanchor="right")
ann("<b>Δ<i>gerG/gerG</i></b>", 55, 628, xanchor="left")
ann("<b>Δ<i>gerG/gerG</i></b>", 738, 628, xanchor="right")

for yc in (148, 440, 740):
    ann("<b>Germination (%)</b>", 7, yc, angle=-90)
for yc in (150, 440, 742):
    ann("<b>Intensity (a.u.)</b>", 383, yc, angle=-90)
for yc, xa_c, xb_c in ((300, 199, 584), (593, 199, 583), (894, 199, 578)):
    ann("<b>Time (min)</b>", xa_c, yc)
    ann("<b>Time (min)</b>", xb_c, yc)

fig.update_layout(
    width=W, height=H, autosize=False,
    margin=dict(l=0, r=0, t=0, b=0, autoexpand=False),
    paper_bgcolor="white", plot_bgcolor="white",
    showlegend=False, hovermode=False,
    annotations=annotations,
    **layout_axes,
)

fig.write_html("out.html", config={"displayModeBar": False, "staticPlot": True},
               post_script="document.body.style.margin='0px';document.body.style.overflow='hidden';")
